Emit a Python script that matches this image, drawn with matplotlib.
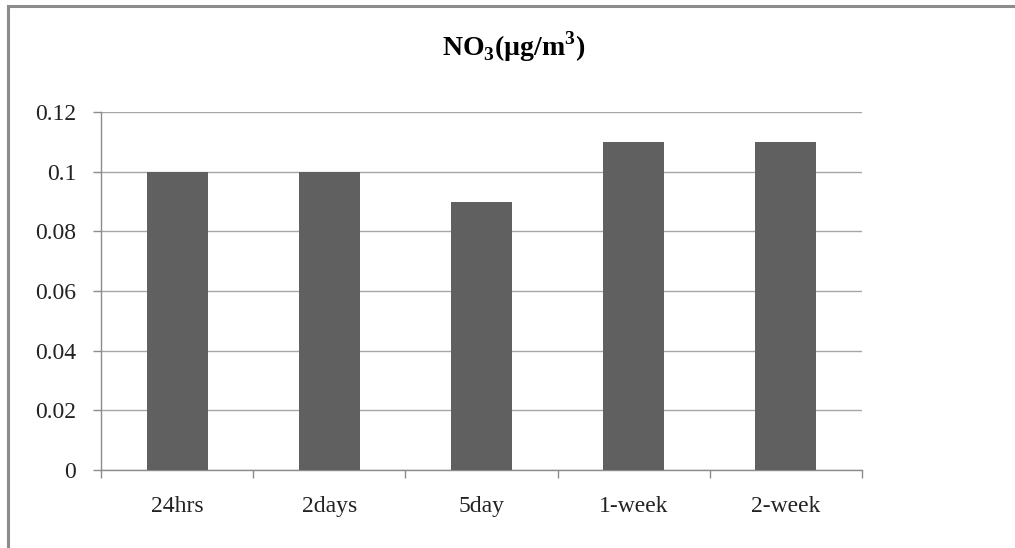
import matplotlib
matplotlib.use("Agg")
import matplotlib.pyplot as plt
from matplotlib.patches import Rectangle
from matplotlib.ticker import FixedLocator, NullFormatter

categories = ["24hrs", "2days", "5day", "1-week", "2-week"]
values = [0.10, 0.10, 0.09, 0.11, 0.11]
y_ticks = [0, 0.02, 0.04, 0.06, 0.08, 0.1, 0.12]
y_tick_labels = ["0", "0.02", "0.04", "0.06", "0.08", "0.1", "0.12"]

plt.rcParams["font.family"] = ["Liberation Serif", "DejaVu Serif"]

W, H = 1015, 548
fig = plt.figure(figsize=(W / 100, H / 100), dpi=100)
fig.patch.set_facecolor("white")

# outer chart frame (left and top edges visible)
fig.patches.append(Rectangle((8 / W, -0.05), 1.1, 1 - 6 / H + 0.05,
                             transform=fig.transFigure, fill=False,
                             edgecolor="#8c8c8c", linewidth=2.2, zorder=0))

ax = fig.add_axes([101 / W, 1 - 470 / H, (862 - 101) / W, (470 - 112) / H])
x = list(range(len(categories)))
ax.bar(x, values, width=0.4, color="#606060", zorder=3)

ax.set_xlim(-0.5, len(categories) - 0.5)
ax.set_ylim(0, 0.12)
ax.set_yticks(y_ticks)
ax.set_yticklabels(y_tick_labels, fontsize=17, color="#222222")
ax.yaxis.grid(True, color="#a6a6a6", linewidth=1.0, zorder=0)
ax.set_axisbelow(True)

# category labels centred, tick marks at category boundaries
ax.set_xticks(x)
ax.set_xticklabels(categories, fontsize=17, color="#222222")
ax.tick_params(axis="x", which="major", length=0, pad=19)
ax.xaxis.set_minor_locator(FixedLocator([i - 0.5 for i in range(len(categories) + 1)]))
ax.xaxis.set_minor_formatter(NullFormatter())
ax.tick_params(axis="x", which="minor", length=6, color="#8c8c8c", width=1)
ax.tick_params(axis="y", length=6, color="#8c8c8c", width=1, pad=12)

for side in ["top", "right"]:
    ax.spines[side].set_visible(False)
for side in ["left", "bottom"]:
    ax.spines[side].set_color("#8c8c8c")
    ax.spines[side].set_linewidth(1)

fig.text(514 / W, 1 - 47 / H, r"NO$_\mathregular{3}$(µg/m$^\mathregular{3}$)",
         ha="center", va="center", fontsize=20, fontweight="bold")

fig.savefig("out.png", dpi=100)
